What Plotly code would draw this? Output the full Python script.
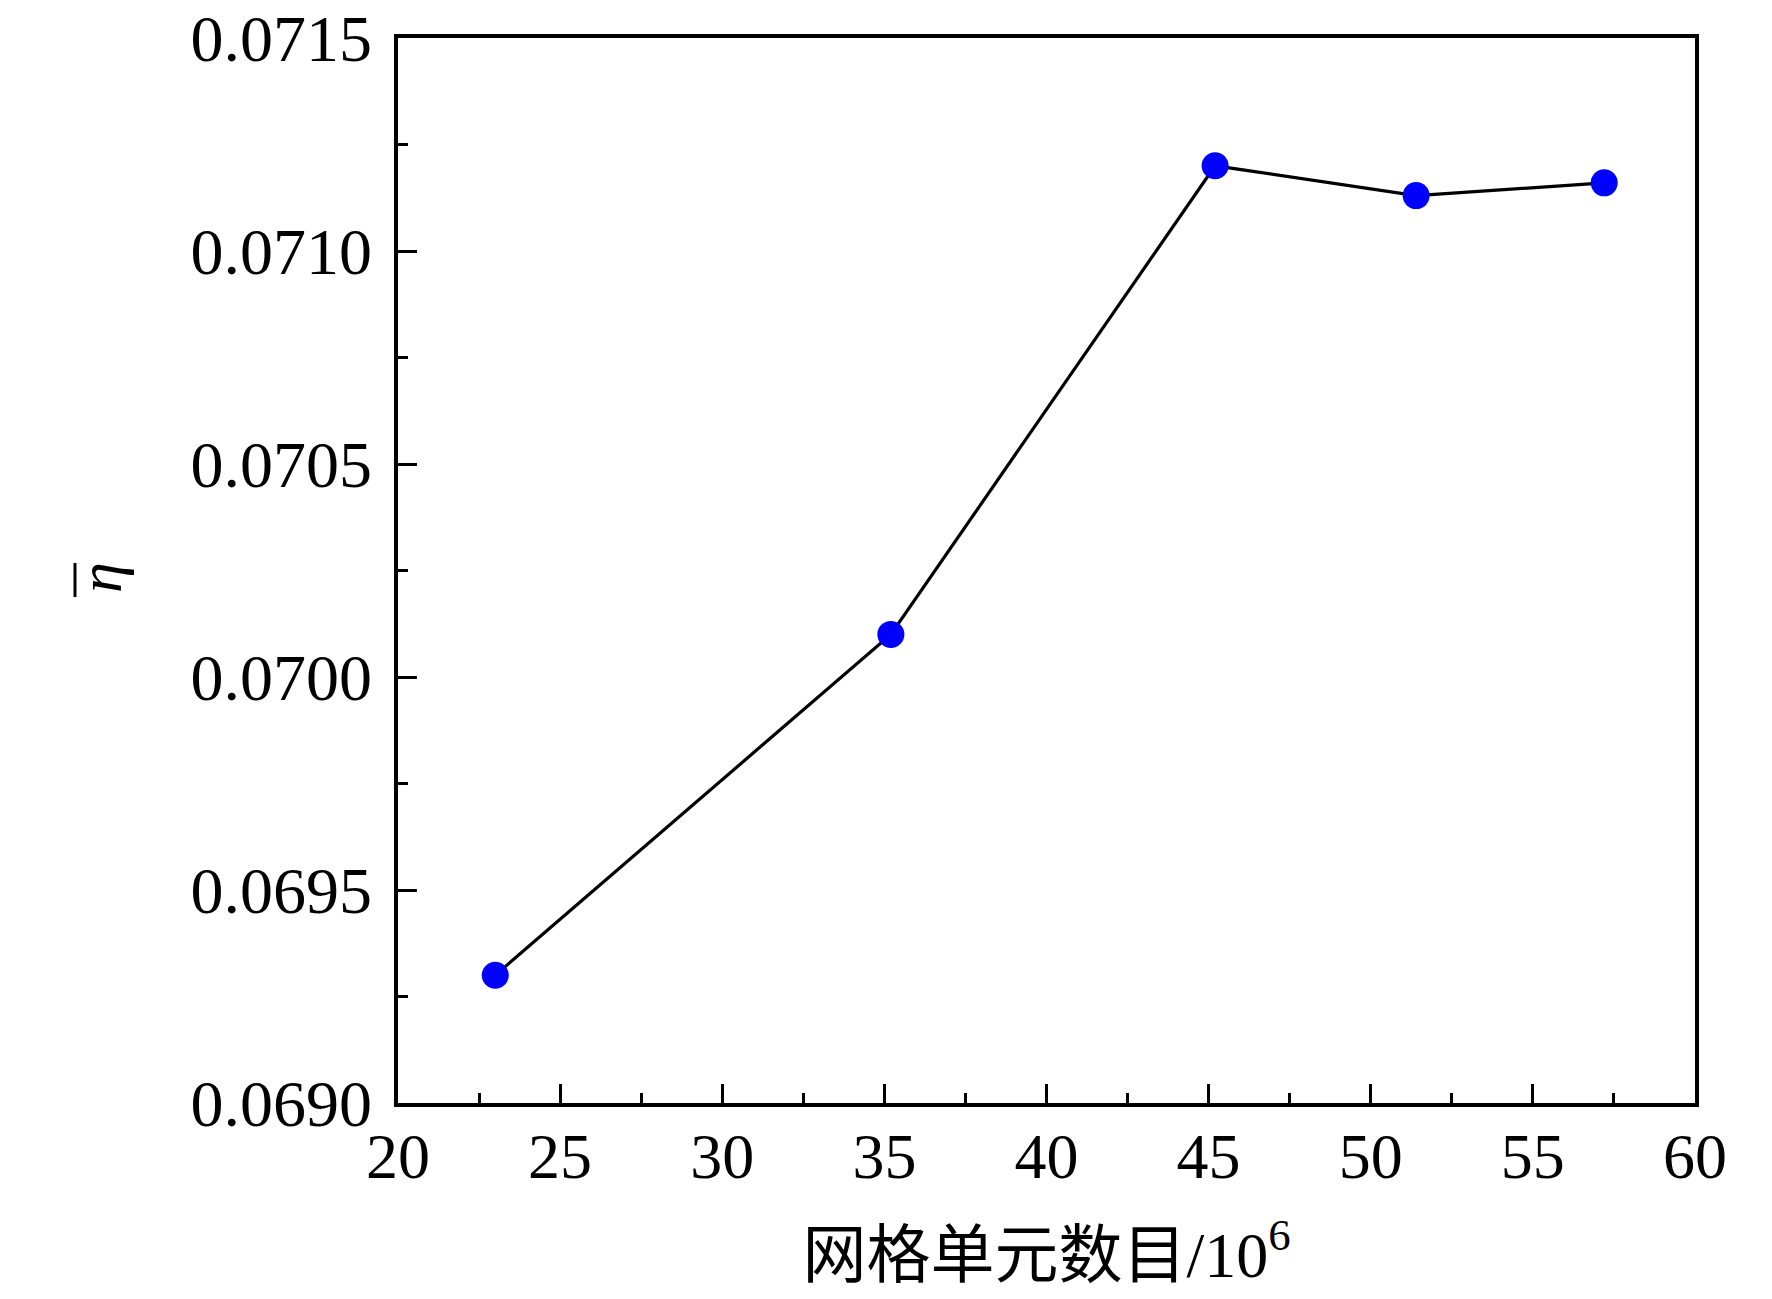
import plotly.graph_objects as go

mesh_count = [23.0, 35.2, 45.2, 51.4, 57.2]
eta_mean = [0.06930, 0.07010, 0.07120, 0.07113, 0.07116]

x_title = "网格单元数目/10<sup>6</sup>"
y_symbol = "<i>η</i>"

font_family = "Liberation Serif, 'Times New Roman', 'Noto Sans CJK SC', serif"

W, H = 1772, 1299
L, R, T, B = 390, 85, 30, 204
pw, ph = W - L - R, H - T - B

def px_to_paper_x(px):
    return (px - L) / pw

def px_to_paper_y(py):
    return 1 - (py - T) / ph

fig = go.Figure()
fig.add_trace(go.Scatter(
    x=mesh_count, y=eta_mean, mode="lines+markers",
    line=dict(color="black", width=3.2),
    marker=dict(color="#0000FF", size=27),
    showlegend=False,
))

fig.update_layout(
    width=W, height=H,
    margin=dict(l=L, r=R, t=T, b=B, autoexpand=False),
    paper_bgcolor="white", plot_bgcolor="white",
    font=dict(family=font_family, color="black", size=66),
)
fig.update_xaxes(
    range=[20, 60], dtick=5, tick0=20, automargin=False,
    showline=True, linecolor="black", linewidth=3.5, mirror=True,
    ticks="inside", ticklen=19, tickwidth=2.5, tickcolor="black",
    minor=dict(ticks="inside", ticklen=10, dtick=2.5, tickwidth=2.5, tickcolor="black"),
    showgrid=False, zeroline=False,
    tickfont=dict(size=64), ticklabelstandoff=-6, ticklabeloverflow="allow",
    title=dict(text=x_title, font=dict(size=64), standoff=43),
)
fig.update_yaxes(
    range=[0.0690, 0.0715], dtick=0.0005, tick0=0.0690, tickformat=".4f",
    automargin=False,
    showline=True, linecolor="black", linewidth=3.5, mirror=True,
    ticks="inside", ticklen=19, tickwidth=2.5, tickcolor="black",
    minor=dict(ticks="inside", ticklen=10, dtick=0.00025, tickwidth=2.5, tickcolor="black"),
    showgrid=False, zeroline=False,
    tickfont=dict(size=66), ticklabelstandoff=9, ticklabeloverflow="allow",
)

# y-axis title: italic eta with an overline (rotated)
fig.add_annotation(
    text=y_symbol, xref="paper", yref="paper",
    x=px_to_paper_x(92), y=px_to_paper_y(570),
    xanchor="center", yanchor="middle", textangle=-90,
    showarrow=False, font=dict(size=62),
)
fig.add_shape(
    type="line", xref="paper", yref="paper",
    x0=px_to_paper_x(67), x1=px_to_paper_x(67),
    y0=px_to_paper_y(555), y1=px_to_paper_y(589),
    line=dict(color="black", width=3),
)

fig.write_html("out.html")
